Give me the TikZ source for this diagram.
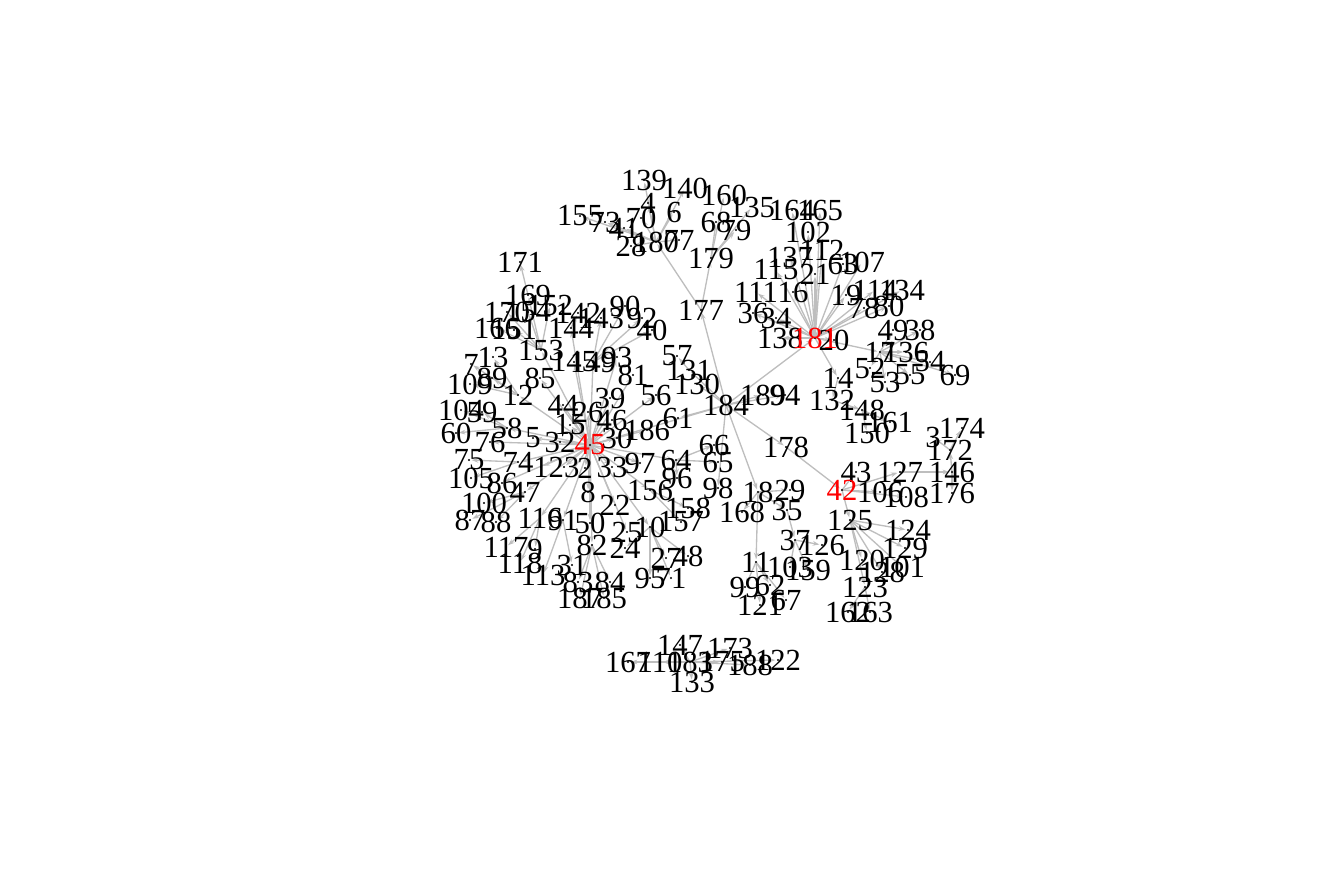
\documentclass[tikz,border=0pt]{standalone}
\usepackage{fontspec}
\setmainfont{Liberation Serif}
\usetikzlibrary{backgrounds,arrows.meta}
\definecolor{edgegray}{RGB}{190,190,190}
\begin{document}
\begin{tikzpicture}[x=0.75pt,y=-0.75pt,
 lbl/.style={inner sep=0pt,font=\fontsize{23}{23}\selectfont},
 hub/.style={lbl,text=red},
 edge/.style={draw=edgegray,line width=1pt,-{Stealth[length=5pt,width=3.5pt]},shorten >=2pt},
 vdot/.style={fill=black}]
\useasboundingbox (0,0) rectangle (1344,895);
% ordinary vertices
\foreach \n/\x/\y in {
139/644/180, 140/685/188, 160/724/195, 135/752/207, 4/648/203, 155/580/216, 73/605/222,
41/624/228, 70/641/218, 6/674/212, 68/716/222, 79/736/230, 28/631/246, 180/656/242,
77/679/240, 179/711/258, 177/701/310,
164/792/210, 165/820/210, 102/808/232, 137/790/257, 112/822/250, 63/843/264, 107/862/262,
115/776/270, 21/815/274, 111/756/292, 16/793/292, 19/846/295, 114/875/290, 134/902/290,
78/864/308, 80/889/306, 36/753/313, 34/776/318, 138/780/338, 20/834/340,
49/893/330, 38/920/330, 17/880/352, 136/906/352, 52/870/368, 53/885/382, 55/910/375,
54/930/362, 69/955/375, 14/838/378, 132/832/400, 148/862/410, 161/890/422, 150/867/433,
3/933/437, 174/962/428, 172/950/450, 146/952/472, 176/952/493,
184/726/405, 189/763/395, 94/785/395, 178/786/447, 43/856/472, 127/900/472,
106/880/492, 108/906/497, 18/758/492, 29/790/490, 168/742/512, 35/787/510,
98/718/488, 66/714/445, 65/718/462, 64/676/460, 96/677/478, 97/640/463,
130/697/384, 131/689/370, 57/677/356, 56/656/395, 61/678/418, 186/647/430,
30/617/438, 46/612/420, 26/588/412, 44/563/405, 15/570/425, 39/610/398,
5/533/438, 32/560/442, 1/541/467, 23/564/467, 2/585/468, 33/612/467,
8/588/492, 22/615/505, 156/650/490, 158/688/508, 157/681/522,
25/627/532, 10/650/527, 24/625/548, 50/590/523, 91/563/520, 116/540/518, 82/592/545,
117/506/547, 9/535/549, 118/520/563, 113/543/575, 31/572/565,
83/578/582, 84/610/582, 187/580/598, 185/604/598, 95/650/578, 71/671/578, 27/666/558, 48/688/556,
47/525/492, 100/484/503, 87/470/520, 88/496/522, 86/502/483, 105/471/478,
74/518/462, 75/469/460, 76/490/442, 60/456/433, 58/507/428, 104/461/410, 59/482/412,
12/518/395, 85/540/378, 89/492/378, 109/470/384, 13/493/357, 7/471/364,
153/541/350, 166/497/328, 151/514/330, 170/507/312, 154/528/312, 152/550/305,
169/528/295, 171/520/262, 144/571/328, 142/578/313, 143/601/318, 90/625/306,
92/642/318, 40/652/330, 145/574/362, 149/593/362, 93/617/357, 81/633/375,
125/850/520, 124/908/530, 129/905/548, 37/795/540, 126/822/545,
120/862/560, 101/902/567, 128/882/572, 11/756/562, 103/790/567, 159/808/570,
99/745/587, 62/770/585, 121/760/605, 67/786/600, 123/865/587, 162/848/612, 163/870/612,
147/680/645, 173/730/648, 167/628/662, 110/660/662, 183/690/662, 175/722/662,
188/750/665, 122/778/660, 133/692/682}
{\node[lbl] (n\n) at (\x,\y) {\n};}
% highlighted vertices
\node[hub] (n45) at (590,445) {45};
\node[hub] (n181) at (815,338) {181};
\node[hub] (n42) at (842,490) {42};
\begin{scope}[on background layer]
\foreach \a/\b in {
45/30, 45/46, 45/26, 45/44, 45/15, 45/39, 45/5, 45/32, 45/1, 45/23, 45/2, 45/33,
45/8, 45/22, 45/156, 45/97, 45/186, 45/12, 45/85, 45/58, 45/76, 45/74, 45/86, 45/47,
45/116, 45/91, 45/50, 45/82, 45/25, 45/10, 45/153, 45/144, 45/149, 45/93, 45/81,
45/56, 45/145, 45/64,
153/169, 153/170, 153/154, 153/152, 153/166, 153/151, 169/171,
12/13, 12/7, 12/89, 12/109,
58/104, 58/59, 58/60,
74/75, 74/105,
47/100, 47/87, 47/88,
116/117, 116/9, 116/118,
91/113, 91/31,
82/83, 82/84, 82/187, 82/185,
10/95, 10/71, 10/27, 10/48, 10/24,
144/142,
149/143, 149/90, 149/92, 149/40,
184/131, 184/130, 131/57, 184/45, 184/61, 184/98,
156/158, 156/157, 64/66, 64/65, 64/96,
184/177, 184/181, 184/189, 184/94, 184/178, 184/18,
177/180, 177/179,
180/155, 180/73, 180/41, 180/70, 180/4, 180/139, 180/140, 180/6, 180/28, 180/77,
179/68, 179/79, 179/160, 179/135,
181/164, 181/165, 181/102, 181/137, 181/112, 181/63, 181/107, 181/115, 181/21,
181/111, 181/16, 181/19, 181/114, 181/134, 181/78, 181/80, 181/36, 181/34,
181/138, 181/20, 181/14, 181/17,
17/49, 17/38, 17/136, 17/52, 17/53, 17/55, 17/54, 17/69,
14/132, 132/148, 148/161, 148/150,
178/42,
42/43, 42/127, 42/106, 42/108, 42/125,
127/146, 146/172, 146/176, 172/3, 172/174,
125/124, 125/129, 125/120, 125/101, 125/128, 125/123, 123/162, 123/163,
18/168, 18/35, 18/11, 18/29,
35/37, 37/126, 37/103, 37/159,
11/99, 11/62, 11/121, 11/67,
183/167, 183/110, 183/147, 183/173, 183/175, 183/188, 183/122, 183/133}
{\draw[edge] (n\a.center) -- (n\b.center);}
\foreach \n in {45,181,42,184,177,180,179,153,12,58,74,47,116,91,82,10,144,149,131,156,64,17,14,132,148,178,127,146,172,125,123,18,35,37,11,183,
139,4,155,73,41,70,6,68,79,28,77,164,102,137,63,115,21,111,16,19,114,78,80,36,34,138,20,49,38,136,52,53,55,54,69,161,150,3,174,176,
189,94,43,106,108,168,29,98,66,65,96,97,130,57,56,61,186,30,46,26,44,15,39,5,32,1,23,2,33,8,22,158,157,25,24,50,117,9,118,113,31,83,84,187,185,95,71,27,48,
100,87,88,86,105,75,76,60,104,59,85,89,109,13,7,166,151,170,154,152,169,171,142,143,90,92,40,145,93,81,124,129,126,120,101,128,103,159,99,62,121,67,162,163,
147,173,167,110,175,188,122,133}
{\fill (n\n.center) circle (1.1);}
\end{scope}
\end{tikzpicture}
\end{document}
